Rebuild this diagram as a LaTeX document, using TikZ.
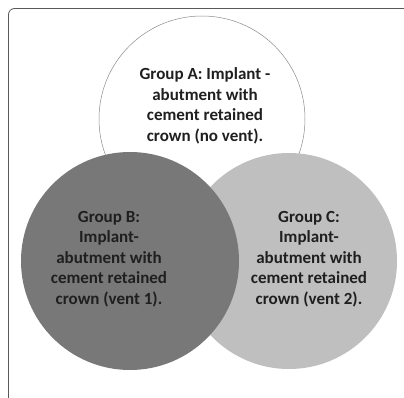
\documentclass[tikz,border=0pt]{standalone}
\usepackage{fontspec}
\setmainfont{Carlito}
\begin{document}
\begin{tikzpicture}[x=1pt,y=-1pt,
  venn/.style={circle,inner sep=0pt,minimum size=#1},
  lbl/.style={align=center,font=\bfseries\fontsize{17}{20.5}\selectfont,text=black!88}]
\useasboundingbox (0,0) rectangle (404,398);
\fill[white] (0,0) rectangle (404,398);
% frame (partially visible)
\draw[black!65,line width=0.8pt,rounded corners=6pt] (8.5,420) -- (8.5,8.5) -- (430,8.5);
% circles
\node[venn=206pt,draw=black!45,line width=0.5pt,fill=white] (A) at (202,119) {};
\node[venn=216pt,fill=black!25] (C) at (289,261) {};
\node[venn=218pt,fill=black!53] (B) at (130,261) {};
% texts
\node[lbl] (tA) at (205,106) {Group A: Implant -\\abutment with\\cement retained\\crown (no vent).};
\node[lbl] (tB) at (109,259) {Group B:\\Implant-\\abutment with\\cement retained\\crown (vent 1).};
\node[lbl] (tC) at (309,259) {Group C:\\Implant-\\abutment with\\cement retained\\crown (vent 2).};
\end{tikzpicture}
\end{document}
